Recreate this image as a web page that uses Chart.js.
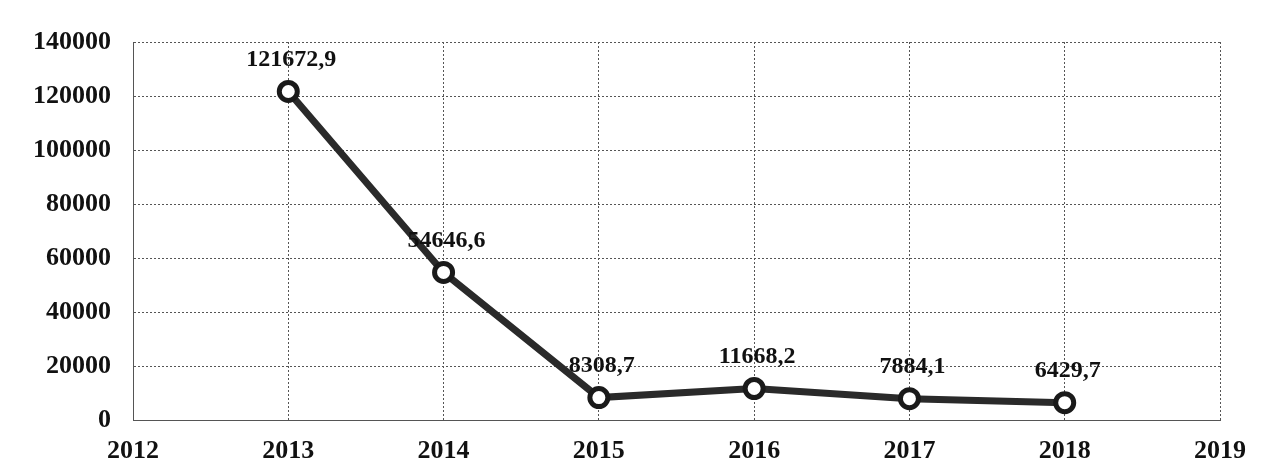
<!DOCTYPE html>
<html>
<head>
<meta charset="utf-8">
<script src="https://cdn.jsdelivr.net/npm/chart.js@4"></script>
<style>
html,body{margin:0;padding:0;background:#fff;}
#wrap{width:1265px;height:476px;position:relative;}
</style>
</head>
<body>
<div id="wrap"><canvas id="c" width="1265" height="476"></canvas></div>
<script>
const years = [2013, 2014, 2015, 2016, 2017, 2018];
const values = [121672.9, 54646.6, 8308.7, 11668.2, 7884.1, 6429.7];
const valueLabels = ["121672,9", "54646,6", "8308,7", "11668,2", "7884,1", "6429,7"];
const yTicks = [0, 20000, 40000, 60000, 80000, 100000, 120000, 140000];
const xRange = [2012, 2019];

const points = years.map((y, i) => ({x: y, y: values[i]}));

const labelPlugin = {
  id: 'valueLabels',
  afterDatasetsDraw(chart) {
    const ctx = chart.ctx;
    const meta = chart.getDatasetMeta(0);
    ctx.save();
    ctx.font = 'bold 24px "Liberation Serif", "Times New Roman", serif';
    ctx.fillStyle = '#111';
    ctx.textAlign = 'center';
    ctx.textBaseline = 'middle';
    meta.data.forEach((pt, i) => {
      ctx.fillText(valueLabels[i], pt.x + 3, pt.y - 32);
    });
    ctx.restore();
  }
};

new Chart(document.getElementById('c'), {
  type: 'line',
  data: {
    datasets: [{
      data: points,
      borderColor: '#2a2a2a',
      borderWidth: 7,
      pointRadius: 9,
      pointBorderWidth: 5,
      pointBackgroundColor: '#ffffff',
      pointBorderColor: '#1a1a1a',
      tension: 0
    }]
  },
  options: {
    responsive: false,
    animation: false,
    layout: {padding: {left: 0, right: 45, top: 42, bottom: 0}},
    plugins: {legend: {display: false}, tooltip: {enabled: false}},
    scales: {
      x: {
        type: 'linear',
        min: xRange[0], max: xRange[1],
        ticks: {
          stepSize: 1,
          callback: v => String(v),
          color: '#111',
          font: {family: '"Liberation Serif", "Times New Roman", serif', size: 26, weight: 'bold'},
          padding: 16
        },
        grid: {color: '#555', lineWidth: 1, drawTicks: false},
        border: {display: true, color: '#555', dash: [2, 2]},
        afterFit(s) { s.height = 56; }
      },
      y: {
        min: yTicks[0], max: yTicks[yTicks.length - 1],
        afterBuildTicks(s) { s.ticks = yTicks.map(v => ({value: v})); },
        ticks: {
          callback: v => String(v),
          color: '#111',
          font: {family: '"Liberation Serif", "Times New Roman", serif', size: 26, weight: 'bold'},
          padding: 22
        },
        grid: {color: '#555', lineWidth: 1, drawTicks: false},
        border: {display: true, color: '#555', dash: [2, 2]},
        afterFit(s) { s.width = 133; }
      }
    }
  },
  plugins: [labelPlugin]
});
</script>
</body>
</html>
